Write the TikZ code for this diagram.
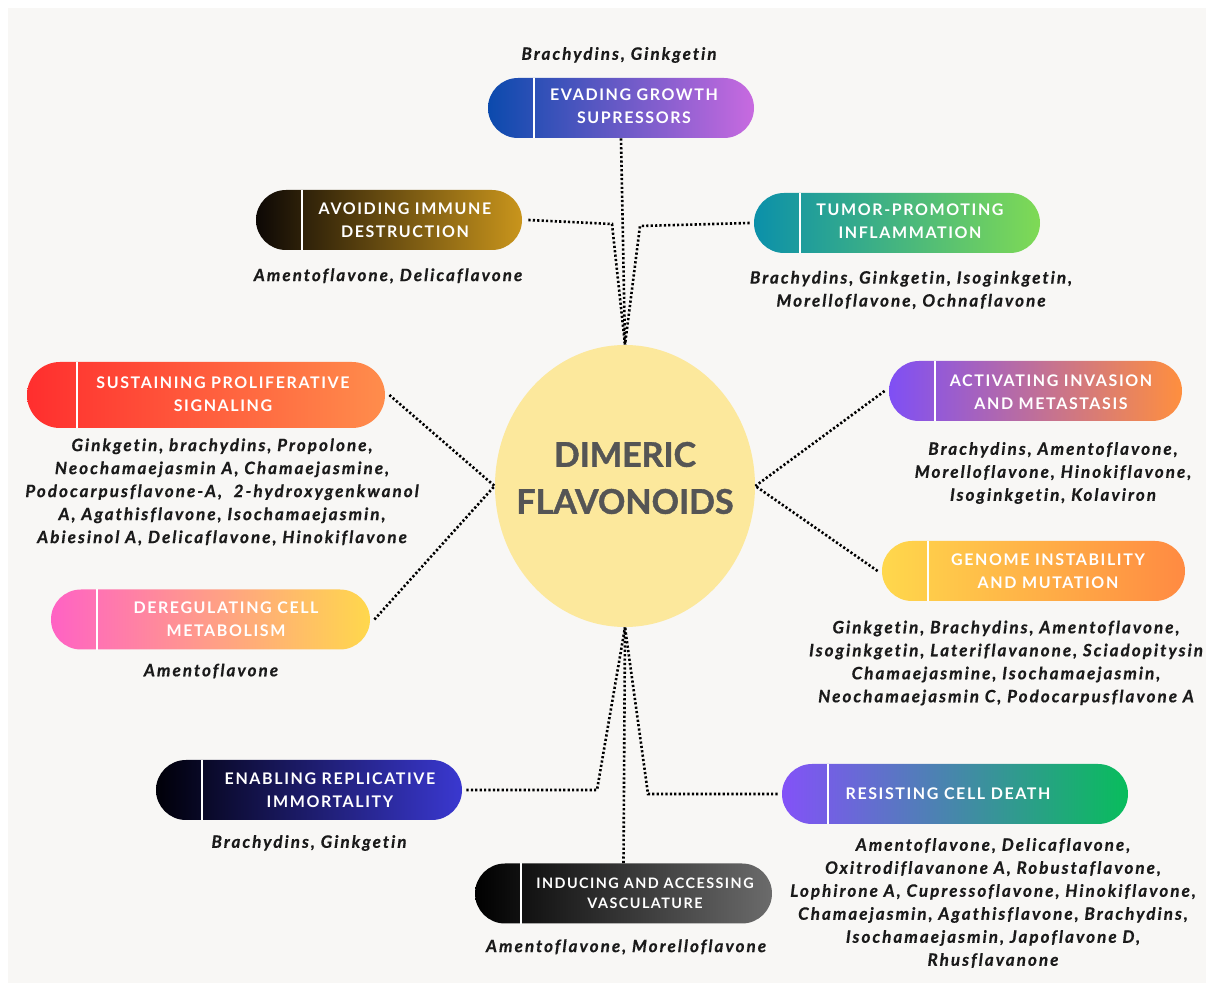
\documentclass[tikz,border=0pt]{standalone}
\usepackage{fontspec}
\usetikzlibrary{shapes.geometric}
\newfontfamily\pillfont[LetterSpace=10, Ligatures=NoCommon]{Lato}
\newfontfamily\labfont[LetterSpace=12, Ligatures=NoCommon, FakeBold=0.6]{Lato}
\newfontfamily\titlefont[FakeBold=1.2]{Lato}

\definecolor{bgcol}{HTML}{F8F7F5}
\definecolor{corecol}{HTML}{FCE89C}
\definecolor{titlecol}{HTML}{555555}
\definecolor{labcol}{HTML}{1A1A1A}

\tikzset{
  pill/.style={rectangle, rounded corners=15pt, minimum height=30pt, inner sep=0pt},
  pilltext/.style={text=white, align=center, inner sep=0pt,
    font=\pillfont\bfseries\fontsize{8}{11.5}\selectfont},
  drug/.style={text=labcol, align=center, inner sep=0pt,
    font=\labfont\bfseries\itshape\fontsize{8.5}{11.5}\selectfont},
  link/.style={line width=1.3pt, dash pattern=on 1.1pt off 1.1pt},
  divider/.style={white, line width=1pt},
}

\begin{document}
\begin{tikzpicture}[x=0.5pt, y=-0.5pt]
\useasboundingbox (0,0) rectangle (1206,983);
\fill[white] (0,0) rectangle (1206,983);
\fill[bgcol] (8,8) rectangle (1206,983);

% centre
\node[ellipse, fill=corecol, minimum width=130pt, minimum height=141pt, inner sep=0pt] (core) at (625,486) {};
\node[text=titlecol, align=center, font=\titlefont\bfseries\fontsize{17}{23.5}\selectfont] (title) at (625,478) {DIMERIC\\FLAVONOIDS};

% hallmark pills
\node[pill, minimum width=133pt, left color={rgb,255:red,11;green,74;blue,173}, right color={rgb,255:red,200;green,106;blue,224}] (evade) at (621,108) {};
\node[pill, minimum width=133pt, left color={rgb,255:red,13;green,8;blue,5}, right color={rgb,255:red,201;green,149;blue,28}] (avoid) at (389,220) {};
\node[pill, minimum width=143pt, left color={rgb,255:red,11;green,144;blue,170}, right color={rgb,255:red,127;green,218;blue,85}] (tumor) at (897,223) {};
\node[pill, minimum width=179pt, minimum height=33pt, rounded corners=16.5pt, left color={rgb,255:red,255;green,46;blue,46}, right color={rgb,255:red,255;green,141;blue,76}] (sustain) at (206,395) {};
\node[pill, minimum width=146.5pt, left color={rgb,255:red,127;green,79;blue,245}, right color={rgb,255:red,255;green,143;blue,62}] (activate) at (1035.5,391) {};
\node[pill, minimum width=159.5pt, left color={rgb,255:red,255;green,98;blue,196}, right color={rgb,255:red,255;green,216;blue,76}] (dereg) at (210.5,619.5) {};
\node[pill, minimum width=151.5pt, left color={rgb,255:red,255;green,216;blue,76}, right color={rgb,255:red,255;green,138;blue,66}] (genome) at (1033.5,571) {};
\node[pill, minimum width=153pt, left color={rgb,255:red,0;green,0;blue,8}, right color={rgb,255:red,58;green,56;blue,208}] (enable) at (309,790) {};
\node[pill, minimum width=148.5pt, left color=black, right color={rgb,255:red,107;green,107;blue,107}] (induce) at (623.5,893.5) {};
\node[pill, minimum width=173pt, left color={rgb,255:red,131;green,82;blue,248}, right color={rgb,255:red,8;green,189;blue,92}] (resist) at (955,794) {};

% white dividers
\foreach \p in {evade,avoid,tumor,activate,dereg,genome,enable,induce,resist}
  \draw[divider] ([xshift=23pt]\p.north west) -- ([xshift=23pt]\p.south west);
\draw[divider] ([xshift=25pt]sustain.north west) -- ([xshift=25pt]sustain.south west);

% pill texts
\node[pilltext] (evadetxt) at (634,106) {EVADING GROWTH\\SUPRESSORS};
\node[pilltext] (avoidtxt) at (405,220) {AVOIDING IMMUNE\\DESTRUCTION};
\node[pilltext] (tumortxt) at (910,221) {TUMOR-PROMOTING\\INFLAMMATION};
\node[pilltext] (sustaintxt) at (223,394) {SUSTAINING PROLIFERATIVE\\SIGNALING};
\node[pilltext] (activatetxt) at (1051,392) {ACTIVATING INVASION\\AND METASTASIS};
\node[pilltext] (deregtxt) at (226,619) {DEREGULATING CELL\\METABOLISM};
\node[pilltext] (genometxt) at (1048,571) {GENOME INSTABILITY\\AND MUTATION};
\node[pilltext] (enabletxt) at (330,790) {ENABLING REPLICATIVE\\IMMORTALITY};
\node[pilltext, font=\pillfont\bfseries\fontsize{7.2}{10}\selectfont] (inducetxt) at (645,893) {INDUCING AND ACCESSING\\VASCULATURE};
\node[pilltext] (resisttxt) at (948,794) {RESISTING CELL DEATH};

% compound lists
\node[drug] (evadelab) at (619,55) {Brachydins, Ginkgetin};
\node[drug] (avoidlab) at (388,276) {Amentoflavone, Delicaflavone};
\node[drug] (tumorlab) at (911,290) {Brachydins, Ginkgetin, Isoginkgetin,\\Morelloflavone, Ochnaflavone};
\node[drug] (sustainlab) at (222,492) {Ginkgetin, brachydins, Propolone,\\Neochamaejasmin A, Chamaejasmine,\\Podocarpusflavone-A,\ \ 2-hydroxygenkwanol\\A, Agathisflavone, Isochamaejasmin,\\Abiesinol A, Delicaflavone, Hinokiflavone};
\node[drug] (activatelab) at (1053,473) {Brachydins, Amentoflavone,\\Morelloflavone, Hinokiflavone,\\Isoginkgetin, Kolaviron};
\node[drug] (dereglab) at (211,671) {Amentoflavone};
\node[drug] (genomelab) at (1006,663) {Ginkgetin, Brachydins, Amentoflavone,\\Isoginkgetin, Lateriflavanone, Sciadopitysin\\Chamaejasmine, Isochamaejasmin,\\Neochamaejasmin C, Podocarpusflavone A};
\node[drug] (enablelab) at (309,843) {Brachydins, Ginkgetin};
\node[drug] (inducelab) at (626,947) {Amentoflavone, Morelloflavone};
\node[drug] (resistlab) at (993,903) {Amentoflavone, Delicaflavone,\\Oxitrodiflavanone A, Robustaflavone,\\Lophirone A, Cupressoflavone, Hinokiflavone,\\Chamaejasmin, Agathisflavone, Brachydins,\\Isochamaejasmin, Japoflavone D,\\Rhusflavanone};

% connectors
\coordinate (avoidbend) at (612,224);
\coordinate (tumorbend) at (640,226);
\coordinate (enablebend) at (597,790);
\coordinate (resistbend) at (648,794);

\draw[link] (evade.south) -- (core.north);
\draw[link] ([xshift=3pt]avoid.east) -- (avoidbend) -- (core.north);
\draw[link] ([xshift=-2pt]tumor.west) -- (tumorbend) -- (core.north);
\draw[link] ([xshift=2pt]sustain.east) -- (core.west);
\draw[link] ([xshift=2pt]dereg.east) -- (core.west);
\draw[link] ([xshift=-2pt]activate.west) -- (core.east);
\draw[link] ([xshift=-2pt]genome.west) -- (core.east);
\draw[link] ([xshift=2pt]enable.east) -- (enablebend) -- (core.south);
\draw[link] (induce.north) -- (core.south);
\draw[link] ([xshift=-2pt]resist.west) -- (resistbend) -- (core.south);
\end{tikzpicture}
\end{document}
